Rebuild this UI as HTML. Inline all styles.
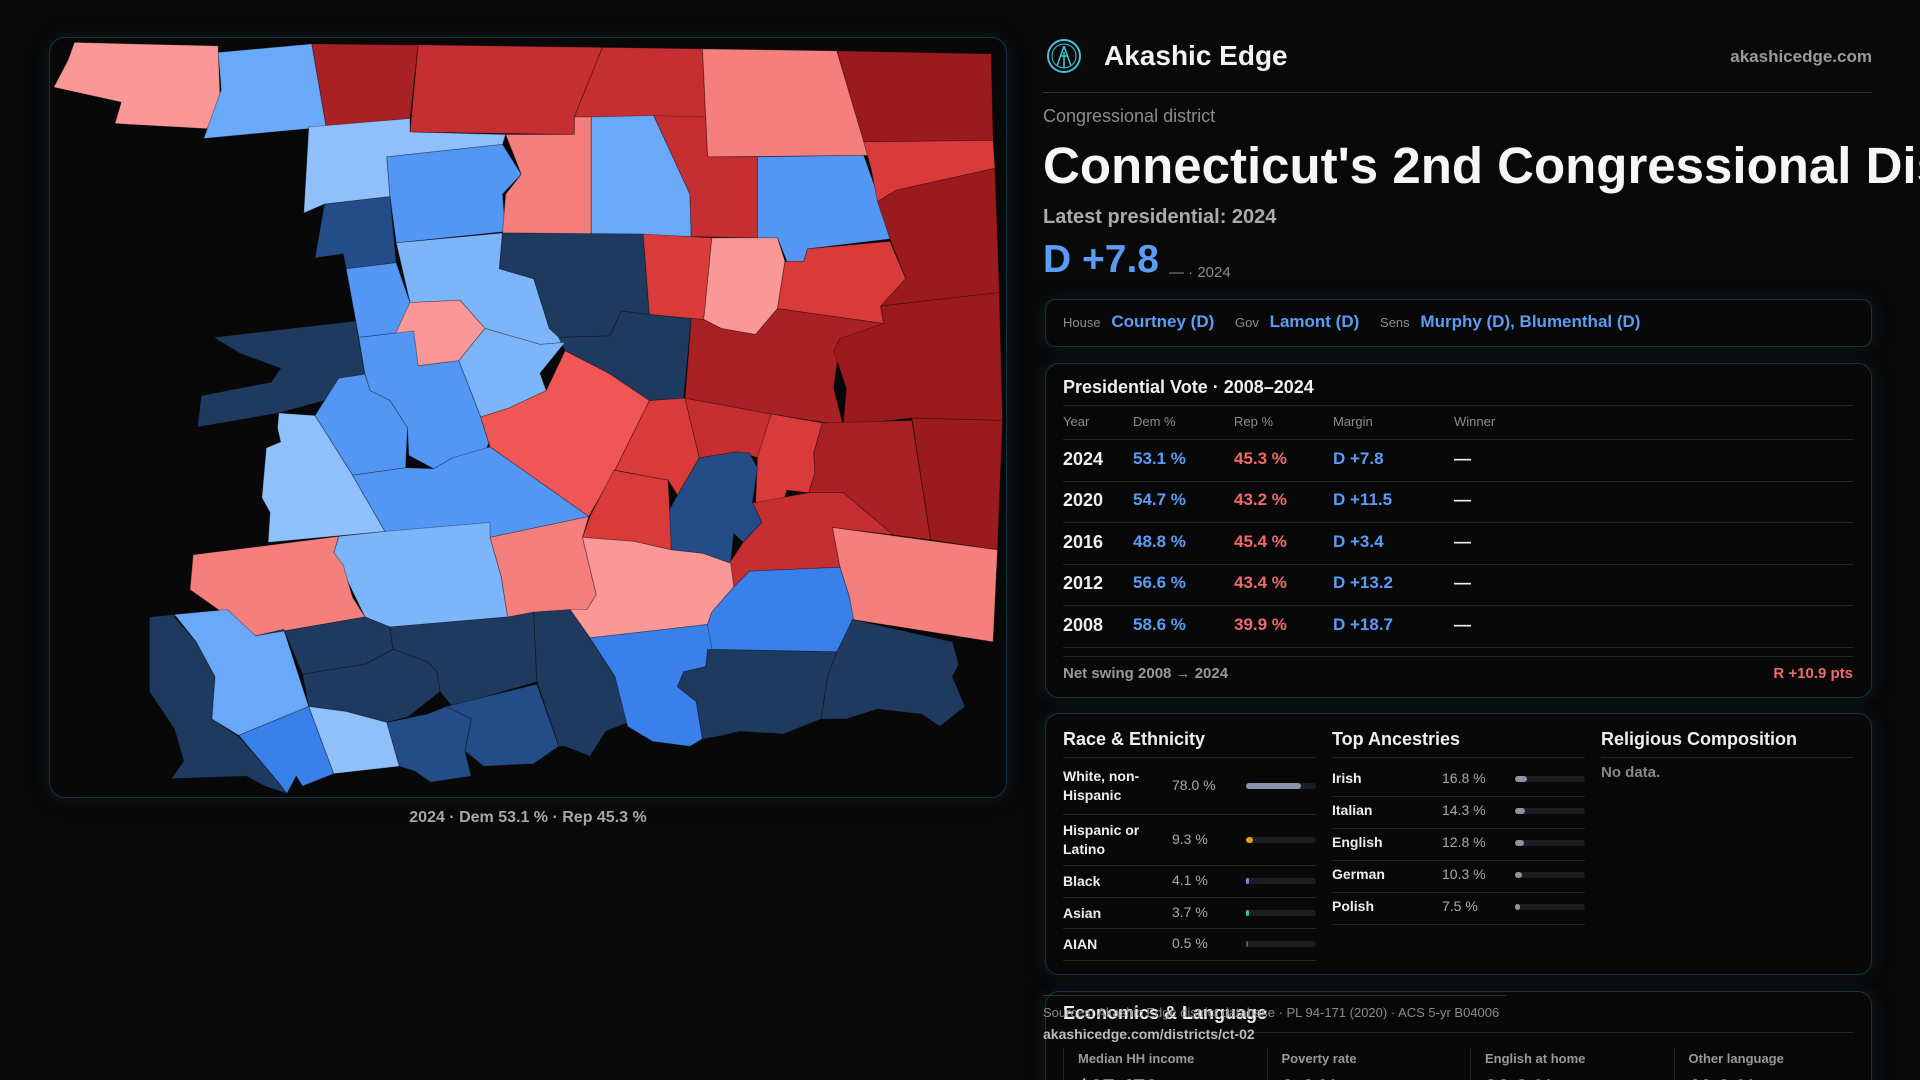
<!DOCTYPE html>
<html><head><meta charset="utf-8"><style>
*{box-sizing:border-box;margin:0;padding:0}
html,body{width:1920px;height:1080px;overflow:hidden;background:#09090a;font-family:"Liberation Sans",sans-serif;color:#eee}
#root{position:relative;width:1920px;height:1080px;overflow:hidden}
.abs{position:absolute;white-space:nowrap}
.card{position:absolute;border:1px solid #123440;border-radius:14px;background:#080809;box-shadow:0 0 18px rgba(20,70,80,.25)}
.hl{position:absolute;height:1px;background:#222528}
.g{color:#8c8c8c}.b{color:#5b9cf5}.r{color:#f06a6a}
</style></head><body>
<div id="root">
<div class="card" style="left:49px;top:37px;width:958px;height:761px;border-radius:16px"></div>
<svg id="map" class="abs" style="left:40px;top:30px" width="980" height="780" viewBox="0 0 1568 1568" preserveAspectRatio="none"></svg>
<div class="abs" style="left:0;width:1056px;text-align:center;top:809px;font-size:16px;color:#a8a8a8;font-weight:bold">2024 · Dem 53.1 % · Rep 45.3 %</div>

<svg class="abs" style="left:1046px;top:38px" width="36" height="36" viewBox="0 0 36 36"><circle cx="18" cy="18" r="16" fill="none" stroke="#3fc3d0" stroke-width="2"/><circle cx="18" cy="18" r="12" fill="none" stroke="#3fc3d0" stroke-width="1"/><path d="M18 8 L11 28 M18 8 L25 28 M18 14 V30 M14 18 H22" stroke="#3fc3d0" stroke-width="1.6" fill="none"/></svg>
<div class="abs" style="left:1104px;top:40px;font-size:28px;font-weight:bold;color:#f2f2f2">Akashic Edge</div>
<div class="abs" style="right:48px;top:47px;font-size:17px;font-weight:bold;color:#9a9a9a">akashicedge.com</div>
<div class="hl" style="left:1043px;top:92px;width:829px;background:#173a44"></div>
<div class="abs g" style="left:1043px;top:106px;font-size:18px">Congressional district</div>
<div class="abs" style="left:1043px;top:136px;font-size:51px;font-weight:bold;color:#f6f6f6;max-width:877px;overflow:hidden">Connecticut's 2nd Congressional District</div>
<div class="abs" style="left:1043px;top:206px;font-size:20px;font-weight:bold;color:#aaa">Latest presidential: 2024</div>
<div class="abs b" style="left:1043px;top:238px;font-size:39px;font-weight:bold">D +7.8</div>
<div class="abs g" style="left:1169px;top:264px;font-size:15px">— · 2024</div>

<div class="card" style="left:1045px;top:299px;width:827px;height:48px;border-radius:10px"></div>
<div class="abs" style="left:1063px;top:312px;font-size:17px;font-weight:bold">
<span class="g" style="font-size:13px;font-weight:normal">House</span> <span class="b" style="margin-left:6px">Courtney (D)</span>
<span class="g" style="font-size:13px;font-weight:normal;margin-left:16px">Gov</span> <span class="b" style="margin-left:6px">Lamont (D)</span>
<span class="g" style="font-size:13px;font-weight:normal;margin-left:16px">Sens</span> <span class="b" style="margin-left:6px">Murphy (D), Blumenthal (D)</span></div>

<div class="card" style="left:1045px;top:363px;width:827px;height:335px"></div>
<div class="abs" style="left:1063px;top:377px;font-size:18px;font-weight:bold">Presidential Vote · 2008–2024</div>
<div class="hl" style="left:1063px;top:405px;width:790px"></div>
<div class="abs g" style="left:1063px;top:414px;font-size:13px">Year</div>
<div class="abs g" style="left:1133px;top:414px;font-size:13px">Dem %</div>
<div class="abs g" style="left:1234px;top:414px;font-size:13px">Rep %</div>
<div class="abs g" style="left:1333px;top:414px;font-size:13px">Margin</div>
<div class="abs g" style="left:1454px;top:414px;font-size:13px">Winner</div>
<div class="hl" style="left:1063px;top:439px;width:790px"></div>
<div id="voteRows"></div>
<div class="hl" style="left:1063px;top:656px;width:790px"></div>
<div class="abs g" style="left:1063px;top:665px;font-size:15px;font-weight:bold;color:#999">Net swing 2008 → 2024</div>
<div class="abs r" style="right:67px;top:665px;font-size:15px;font-weight:bold">R +10.9 pts</div>

<div class="card" style="left:1045px;top:713px;width:827px;height:262px"></div>
<div class="abs" style="left:1063px;top:729px;font-size:18px;font-weight:bold">Race &amp; Ethnicity</div>
<div class="abs" style="left:1332px;top:729px;font-size:18px;font-weight:bold">Top Ancestries</div>
<div class="abs" style="left:1601px;top:729px;font-size:18px;font-weight:bold">Religious Composition</div>
<div class="hl" style="left:1063px;top:757px;width:253px"></div>
<div class="hl" style="left:1332px;top:757px;width:253px"></div>
<div class="hl" style="left:1601px;top:757px;width:252px"></div>
<div class="abs g" style="left:1601px;top:764px;font-size:15px;font-weight:bold;color:#888">No data.</div>
<div id="demo"></div>

<div class="card" style="left:1045px;top:991px;width:827px;height:120px"></div>
<div class="abs" style="left:1063px;top:1003px;font-size:18px;font-weight:bold">Economics &amp; Language</div>
<div class="hl" style="left:1063px;top:1032px;width:790px"></div>
<div class="hl" style="left:1043px;top:995px;width:463px;background:#173a44"></div>
<div class="abs" style="left:1043px;top:1005px;font-size:13px;color:#8a8a8a">Sources: Akashic Edge district database · PL 94-171 (2020) · ACS 5-yr B04006</div>
<div class="abs" style="left:1043px;top:1026px;font-size:14px;font-weight:bold;color:#bbb">akashicedge.com/districts/ct-02</div>
<div id="econ"></div>
</div>

<script>
// map data: town margins (positive = Dem, negative = Rep)
const townMargins=[-3,8,-25,-18,-16,-7,-32,3,15,-7,10,-18,18,-12,-30,35,6,15,45,-14,-3,-14,-2,40,45,7,15,15,-10,3,15,-12,-18,-28,-32,-13,32,-28,-32,-16,-14,-7,6,-8,-3,-6,20,40,10,45,45,45,25,4,32,35,45,25,45,45];
const townShapes=[
"55,25 285,32 290,200 120,188 130,145 22,115 45,60","285,45 435,28 458,195 262,218 290,120","435,28 605,30 592,178 458,195","605,30 900,35 855,175 855,210 592,205","900,35 1060,38 1065,175 855,175","1060,38 1275,42 1325,252 1068,255","1275,42 1522,48 1525,222 1318,225",
"430,195 592,178 592,205 745,210 740,230 555,255 560,335 455,350 422,368","555,255 740,230 770,290 740,330 745,405 570,428 560,335","745,210 855,210 855,175 882,175 882,410 740,408 745,330 770,290","882,175 982,172 1040,330 1042,415 882,410","982,172 1065,175 1068,255 1148,255 1148,418 1042,415 1040,330","1148,255 1318,252 1340,330 1360,420 1228,440 1222,465 1195,465 1180,418 1148,418","1318,225 1525,222 1528,278 1370,322 1340,345 1330,280","1370,322 1528,278 1535,528 1345,555 1385,500 1360,420 1340,345",
"455,350 560,335 570,468 490,480 485,450 440,458","570,428 740,408 735,480 790,500 815,600 840,628 800,632 712,600 672,543 592,548","490,480 570,468 592,548 598,605 510,618","740,408 965,410 975,572 930,565 912,615 830,618 815,600 790,500 735,480","965,410 1075,418 1062,582 975,572","1075,418 1180,418 1192,465 1180,560 1145,612 1090,600 1062,582","1192,465 1222,465 1228,440 1360,425 1385,500 1345,555 1350,590 1180,560","592,548 672,543 712,600 670,665 605,675 568,612",
"278,618 505,585 520,692 470,740 382,770 252,798 258,735 370,708 385,680 320,650","830,618 912,615 930,565 975,572 1042,580 1030,740 975,745 910,690 840,645","712,600 800,632 840,628 800,690 810,725 750,760 705,778 670,665","510,618 598,605 605,675 670,665 705,778 718,830 710,855 660,860 630,882 590,855 588,800 560,745 528,725 520,692","478,700 520,692 528,725 560,745 588,800 585,880 500,895 440,775","705,778 750,760 810,725 840,645 910,690 975,745 920,885 878,978 720,838 718,830",
"382,770 440,775 500,895 552,1008 365,1030 368,970 355,940 362,840 385,828 380,800","500,895 585,880 630,882 660,860 720,838 878,978 720,1020 552,1008","975,745 1032,740 1055,860 1020,935 1005,905 920,885","1032,740 1170,772 1150,860 1115,848 1055,860","1042,580 1062,582 1090,600 1145,612 1180,560 1350,590 1280,625 1270,720 1285,795 1170,772 1032,740","1345,555 1462,538 1535,528 1540,785 1395,780 1285,795 1290,720 1270,645 1280,620 1350,590","1170,772 1252,790 1238,850 1240,890 1230,930 1195,925 1190,945 1145,950 1148,858",
"1055,860 1115,848 1135,850 1148,880 1140,950 1155,990 1125,1030 1110,1012 1105,1072 1060,1052 1010,1045 1000,980 1020,935","1252,790 1395,785 1425,1025 1365,1015 1285,930 1230,930 1240,890 1238,850","1395,780 1540,785 1532,1045 1425,1025","1145,950 1230,930 1285,930 1365,1015 1268,1000 1280,1080 1135,1088 1110,1120 1095,1072 1105,1068 1125,1030 1155,990 1140,950","918,885 1005,905 1010,1045 950,1028 868,1020 880,978","720,1020 878,978 868,1020 890,1135 875,1165 748,1180 738,1100","478,1018 552,1008 720,990 720,1020 738,1100 748,1180 560,1200 520,1180 470,1050","245,1055 478,1018 470,1050 485,1075 500,1140 520,1180 345,1218 240,1125","868,1020 950,1028 1010,1045 1060,1052 1105,1072 1110,1120 1075,1170 1068,1195 880,1222 848,1165 875,1165 890,1135","1268,1000 1532,1045 1525,1230 1300,1185 1295,1140 1280,1080","1110,1120 1135,1088 1280,1080 1295,1140 1302,1185 1275,1250 1068,1245 1068,1195 1075,1170",
"175,1180 245,1172 215,1180 250,1230 280,1300 275,1385 318,1420 380,1510 395,1535 360,1520 330,1500 210,1505 230,1470 215,1405 175,1330","215,1175 300,1165 345,1218 390,1205 430,1360 318,1418 275,1385 280,1300 250,1230","345,1218 520,1180 560,1200 565,1245 520,1275 420,1295 390,1205","560,1200 748,1180 790,1170 795,1310 660,1360 640,1330 635,1290 620,1270 565,1245","420,1295 520,1275 565,1245 620,1270 635,1290 640,1330 590,1380 555,1392 490,1370 430,1360","318,1418 430,1360 470,1495 420,1520 410,1500 395,1535 380,1510","430,1360 490,1370 555,1392 575,1480 470,1495","555,1392 620,1375 650,1360 690,1385 680,1450 690,1500 625,1512 600,1490 575,1480","650,1360 795,1315 830,1440 790,1475 710,1480 680,1450 690,1385","790,1170 848,1165 880,1222 920,1300 945,1390 905,1410 880,1460 840,1440 830,1440 795,1310","880,1222 1068,1195 1075,1245 1065,1280 1030,1290 1020,1320 1050,1350 1060,1425 1040,1440 980,1430 940,1400 920,1300","1068,1245 1275,1250 1260,1300 1250,1385 1220,1400 1190,1415 1120,1410 1085,1420 1060,1425 1050,1350 1020,1320 1030,1290 1065,1280","1275,1250 1300,1185 1460,1230 1470,1275 1460,1300 1480,1360 1440,1400 1410,1375 1340,1365 1290,1385 1250,1385 1260,1300"];
function marginColor(m){
  if(m>=40)return"#1e3a5f";if(m>=30)return"#244c86";if(m>=20)return"#3a80ea";if(m>=13)return"#5496f3";if(m>=8)return"#6aa8f8";if(m>=5)return"#7db5fa";if(m>=0)return"#8fc0fb";
  if(m>-5)return"#f99896";if(m>-9)return"#f47f7d";if(m>-11)return"#f05656";if(m>-15)return"#d93b3b";if(m>-20)return"#c52f32";if(m>-29)return"#a82125";return"#9b1a1e";}
const svg=document.getElementById('map');
townShapes.forEach((pts,i)=>{const p=document.createElementNS('http://www.w3.org/2000/svg','polygon');
p.setAttribute('points',pts);p.setAttribute('fill',marginColor(townMargins[i]));p.setAttribute('stroke','rgba(0,0,0,0.35)');p.setAttribute('stroke-width','1.5');


svg.appendChild(p);});

// vote table
const years=[2024,2020,2016,2012,2008];
const demPct=[53.1,54.7,48.8,56.6,58.6];
const repPct=[45.3,43.2,45.4,43.4,39.9];
const rowTop=439,rowH=41.5;
let vh='';
years.forEach((y,i)=>{const t=rowTop+i*rowH, m=demPct[i]-repPct[i], c=t+rowH/2-11;
 vh+=`<div class="abs" style="left:1063px;top:${c}px;font-size:18px;font-weight:bold">${y}</div>`+
 `<div class="abs b" style="left:1133px;top:${c}px;font-size:17px;font-weight:bold">${demPct[i].toFixed(1)} %</div>`+
 `<div class="abs r" style="left:1234px;top:${c}px;font-size:17px;font-weight:bold">${repPct[i].toFixed(1)} %</div>`+
 `<div class="abs ${m>=0?'b':'r'}" style="left:1333px;top:${c}px;font-size:17px;font-weight:bold">${m>=0?'D':'R'} +${Math.abs(m).toFixed(1)}</div>`+
 `<div class="abs" style="left:1454px;top:${c}px;font-size:17px;font-weight:bold">—</div>`+
 `<div class="hl" style="left:1063px;top:${t+rowH}px;width:790px"></div>`;});
const vr=document.getElementById('voteRows');vr.innerHTML=vh;



// demographics
const raceLabels=["White, non-<br>Hispanic","Hispanic or<br>Latino","Black","Asian","AIAN"];
const raceValues=[78.0,9.3,4.1,3.7,0.5];
const raceColors=["#8a94a8","#e0a020","#8a7be0","#2ec79a","#555"];
const raceRowH=[57,51,32,31,32];
const ancLabels=["Irish","Italian","English","German","Polish"];
const ancValues=[16.8,14.3,12.8,10.3,7.5];
let dh='',t=757;
raceLabels.forEach((l,i)=>{const c=t+raceRowH[i]/2;
 dh+=`<div class="abs" style="left:1063px;top:${c-(l.includes('<br>')?19:9)}px;font-size:14px;font-weight:bold;line-height:19px">${l}</div>`+
 `<div class="abs" style="left:1172px;top:${c-9}px;font-size:14px;color:#aaa">${raceValues[i].toFixed(1)} %</div>`+
 `<div class="abs" style="left:1246px;top:${c-3}px;width:70px;height:6px;border-radius:3px;background:#1c1d20"></div>`+
 `<div class="abs" style="left:1246px;top:${c-3}px;width:${Math.max(2,raceValues[i]/100*70)}px;height:6px;border-radius:3px;background:${raceColors[i]}"></div>`;
 t+=raceRowH[i];dh+=`<div class="hl" style="left:1063px;top:${t}px;width:253px"></div>`;});
ancLabels.forEach((l,i)=>{const c=779+i*32;
 dh+=`<div class="abs" style="left:1332px;top:${c-9}px;font-size:14px;font-weight:bold">${l}</div>`+
 `<div class="abs" style="left:1442px;top:${c-9}px;font-size:14px;color:#aaa">${ancValues[i].toFixed(1)} %</div>`+
 `<div class="abs" style="left:1515px;top:${c-3}px;width:70px;height:6px;border-radius:3px;background:#1c1d20"></div>`+
 `<div class="abs" style="left:1515px;top:${c-3}px;width:${ancValues[i]/100*70}px;height:6px;border-radius:3px;background:#8a94a8"></div>`+
 `<div class="hl" style="left:1332px;top:${c+17}px;width:253px"></div>`;});
const dm=document.getElementById('demo');dm.innerHTML=dh;



// economics
const econLabels=["Median HH income","Poverty rate","English at home","Other language"];
const econValues=["$87,472","9.4 %","88.8 %","11.2 %"];
let eh='';
econLabels.forEach((l,i)=>{const x=1063+i*203.5;
 eh+=`<div class="abs" style="left:${x}px;top:1048px;width:1px;height:40px;background:#222528"></div>`+
 `<div class="abs" style="left:${x+15}px;top:1051px;font-size:13px;font-weight:bold;color:#999">${l}</div>`+
 `<div class="abs" style="left:${x+15}px;top:1075px;font-size:22px;font-weight:bold">${econValues[i]}</div>`;});
const ec=document.getElementById('econ');ec.innerHTML=eh;


</script>
</body></html>
